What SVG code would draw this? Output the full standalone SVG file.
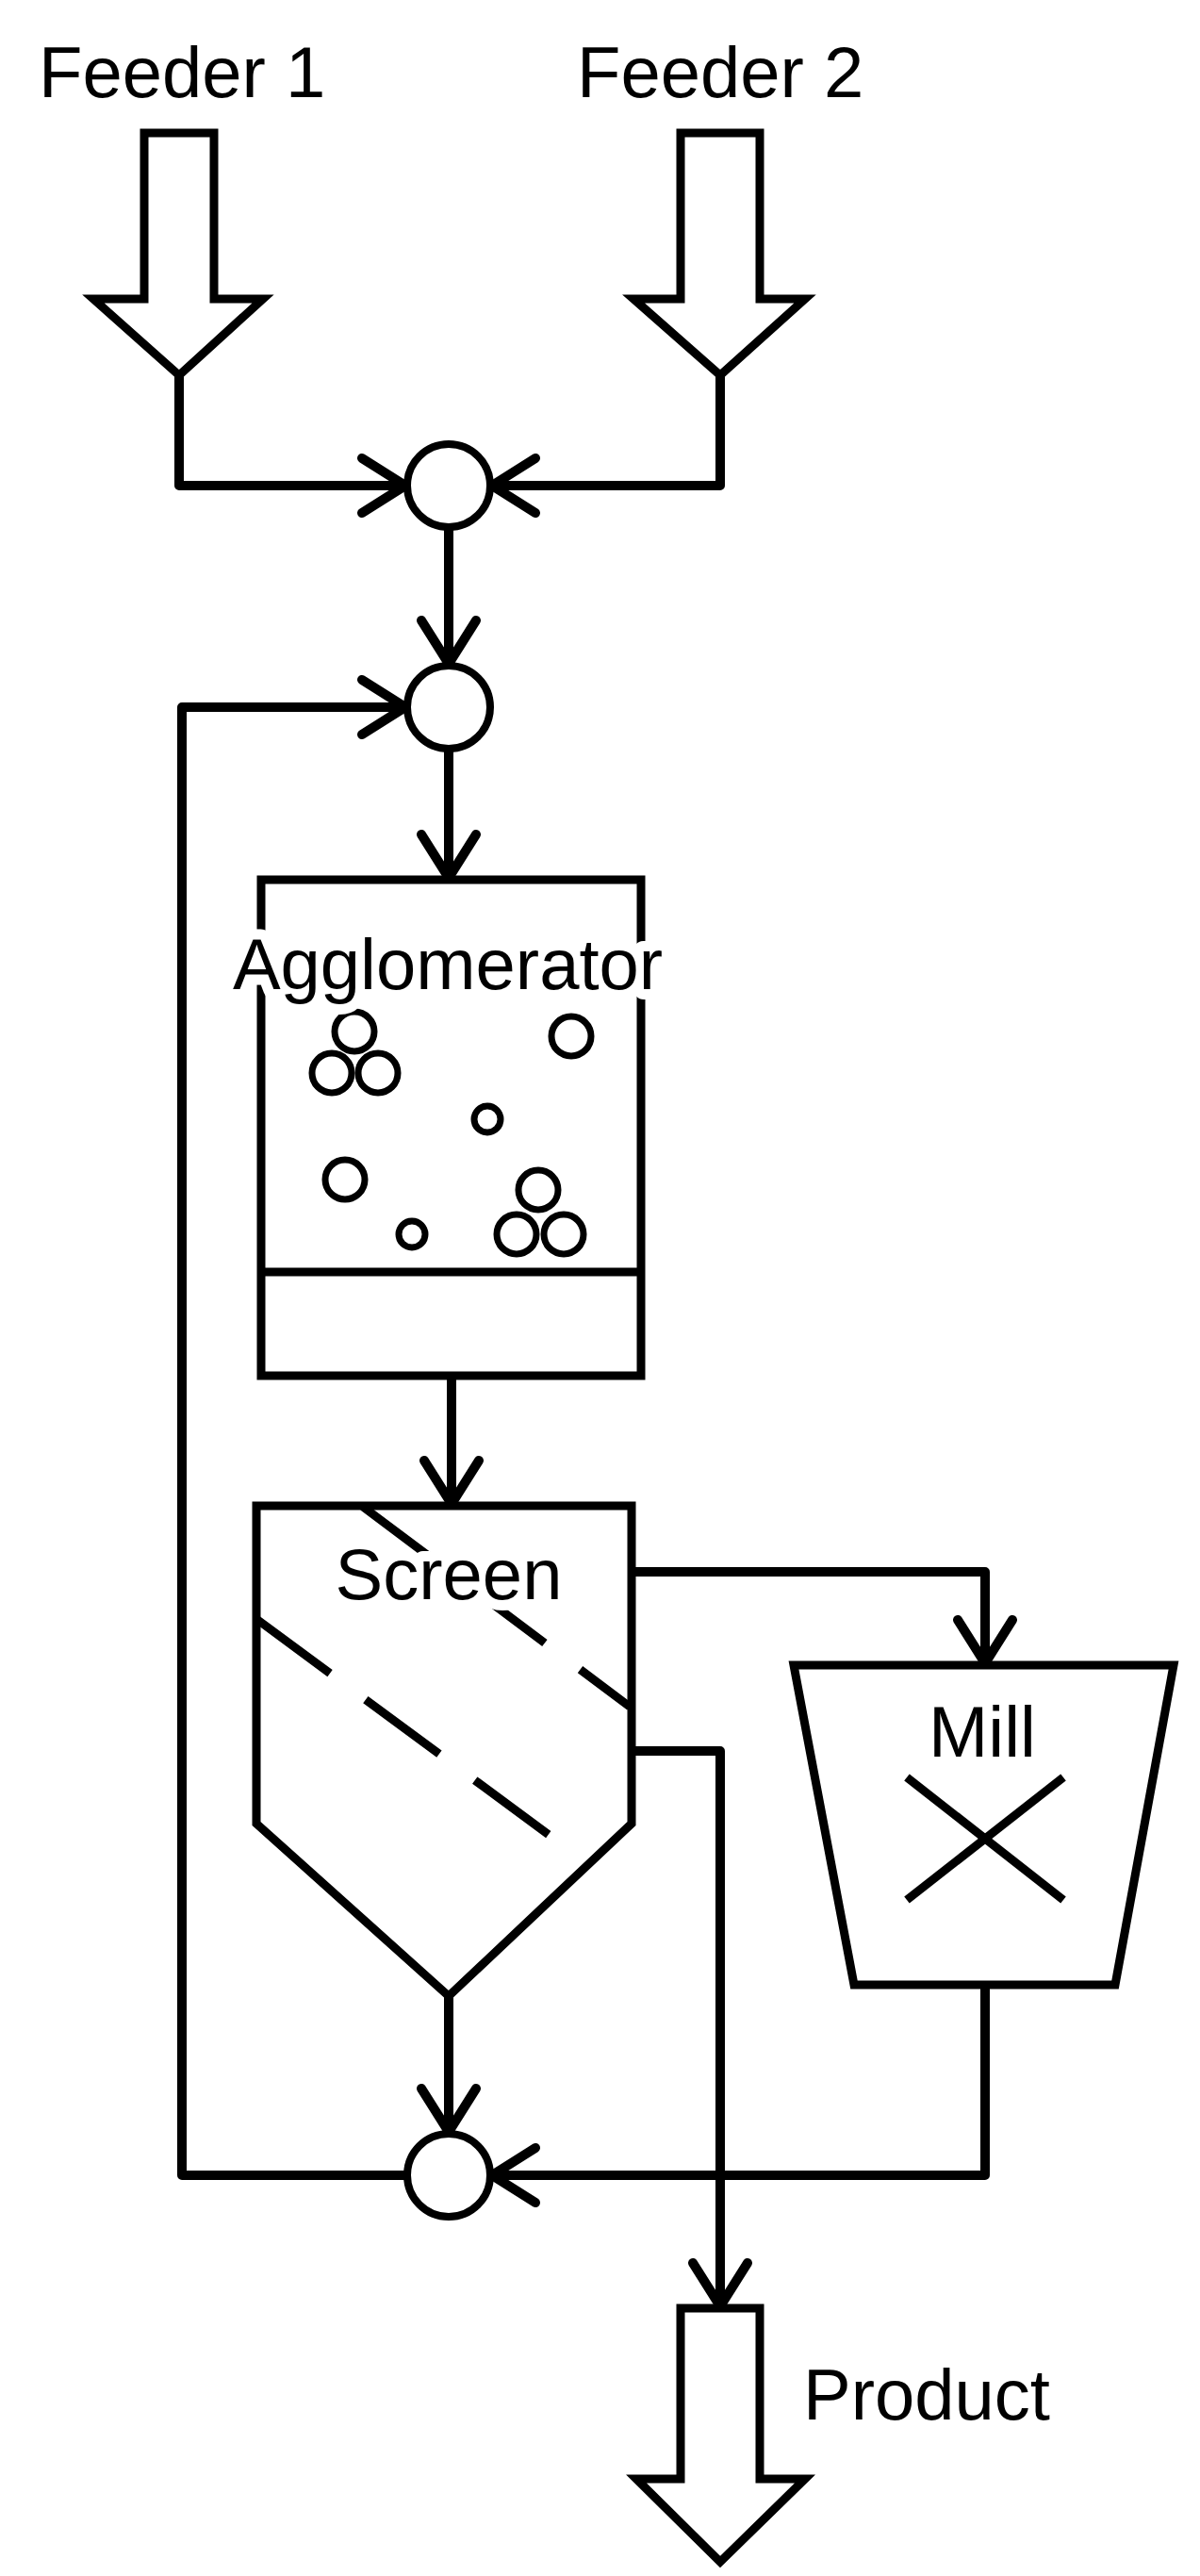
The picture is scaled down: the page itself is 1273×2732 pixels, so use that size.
<svg xmlns="http://www.w3.org/2000/svg" width="1273" height="2732" viewBox="0 0 1273 2732">
<style>
.s{fill:none;stroke:#000;stroke-width:9;stroke-linejoin:miter}
.w{fill:#fff;stroke:#000;stroke-width:9}
.c{fill:#fff;stroke:#000;stroke-width:8}
.p{fill:none;stroke:#000;stroke-width:7}
.t{font-family:"Liberation Sans",Arial,sans-serif;font-size:76px;fill:#000}
.h{stroke:#fff;stroke-width:22;stroke-linejoin:round;paint-order:stroke}
.conn{fill:none;stroke:#000;stroke-width:10;stroke-linejoin:round}
</style>
<defs>
<marker id="ah" markerUnits="userSpaceOnUse" viewBox="-60 -40 70 80" markerWidth="70" markerHeight="80" refX="0" refY="0" orient="auto">
<path d="M-46,-29 L0,0 L-46,29" fill="none" stroke="#000" stroke-width="10" stroke-linecap="round" stroke-linejoin="round"/>
</marker>
</defs>
<rect width="1273" height="2732" fill="#fff"/>
<g id="feeder1">
<polygon class="w" points="153,141 227,141 227,317 279,317 190,398 99,317 153,317"/>
<text class="t" x="41" y="103">Feeder 1</text>
</g>
<g id="feeder2">
<polygon class="w" points="722,141 806,141 806,317 854,317 764,398 672,317 722,317"/>
<text class="t" x="612" y="103">Feeder 2</text>
</g>
<g id="connectors">
<path class="conn" d="M190,398 V515 H430" marker-end="url(#ah)"/>
<path class="conn" d="M764,398 V515 H522" marker-end="url(#ah)"/>
<path class="conn" d="M476,561 V704" marker-end="url(#ah)"/>
<path class="conn" d="M430,2307 H193 V750 H430" marker-end="url(#ah)"/>
<path class="conn" d="M476,796 V931" marker-end="url(#ah)"/>
<path class="conn" d="M479,1459 V1595" marker-end="url(#ah)"/>
<path class="conn" d="M670,1667 H1045 V1764" marker-end="url(#ah)"/>
<path class="conn" d="M670,1857 H764 V2446" marker-end="url(#ah)"/>
<path class="conn" d="M1045,2105 V2307 H522" marker-end="url(#ah)"/>
<path class="conn" d="M476,2117 V2261" marker-end="url(#ah)"/>
</g>
<g id="mix1"><circle class="c" cx="476" cy="515" r="44"/></g>
<g id="mix2"><circle class="c" cx="476" cy="750" r="44"/></g>
<g id="mix3"><circle class="c" cx="476" cy="2307" r="44"/></g>
<g id="agglomerator">
<rect class="w" x="277" y="933" width="403" height="526"/>
<line class="s" x1="277" y1="1349" x2="680" y2="1349"/>
<circle class="p" cx="376" cy="1094" r="21"/>
<circle class="p" cx="352" cy="1138" r="21"/>
<circle class="p" cx="401" cy="1138" r="21"/>
<circle class="p" cx="606" cy="1099" r="21"/>
<circle class="p" cx="517" cy="1187" r="14"/>
<circle class="p" cx="366" cy="1251" r="21"/>
<circle class="p" cx="437" cy="1309" r="14"/>
<circle class="p" cx="571" cy="1262" r="21"/>
<circle class="p" cx="548" cy="1309" r="21"/>
<circle class="p" cx="598" cy="1309" r="21"/>
<text class="t h" x="475" y="1049" text-anchor="middle">Agglomerator</text>
</g>
<g id="screen">
<path class="w" d="M272,1934 V1597 H670 V1934 L476,2117 Z"/>
<line class="s" x1="385" y1="1598" x2="668" y2="1810" stroke-dasharray="97 47"/>
<line class="s" x1="272" y1="1717" x2="585" y2="1948" stroke-dasharray="97 47"/>
<text class="t h" x="476" y="1696" text-anchor="middle">Screen</text>
</g>
<g id="mill">
<polygon class="w" points="842,1766 1245,1766 1183,2105 906,2105"/>
<line class="s" x1="962" y1="1885" x2="1128" y2="2015"/>
<line class="s" x1="1128" y1="1885" x2="962" y2="2015"/>
<text class="t" x="1042" y="1863" text-anchor="middle">Mill</text>
</g>
<g id="product">
<polygon class="w" points="722,2448 806,2448 806,2629 854,2629 764,2717 675,2629 722,2629"/>
<text class="t" x="852" y="2566">Product</text>
</g>
</svg>
